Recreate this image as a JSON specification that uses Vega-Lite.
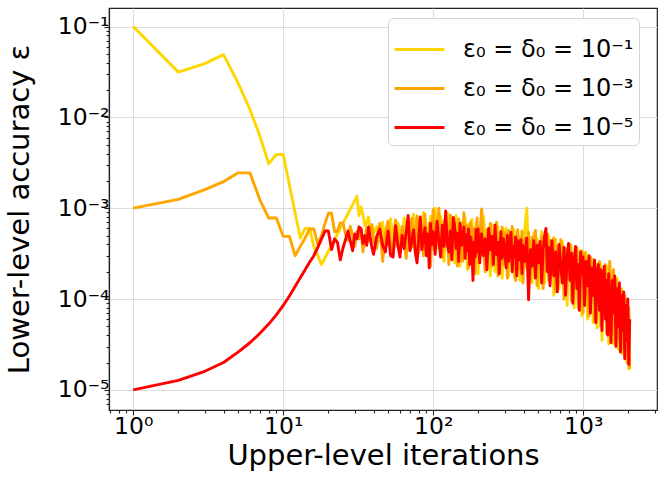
{
"$schema":"https://vega.github.io/schema/vega-lite/v6.json",
"width":548,"height":402,
"autosize":{"type":"none"},
"padding":{"left":109,"top":8,"right":7,"bottom":73},
"background":"white",
"config":{
"font":"DejaVu Sans",
"view":{"stroke":"#222","strokeWidth":1.2},
"axis":{"labelFont":"DejaVu Sans","titleFont":"DejaVu Sans","labelColor":"#000","titleColor":"#000","labelFontSize":23.5,"titleFontSize":29,"titleFontWeight":"normal","domainColor":"#222","domainWidth":1.2,"tickColor":"#222","tickWidth":1.1,"gridColor":"#dcdcdc","gridWidth":1,"labelOverlap":false,"labelFlush":false,"labelBound":false}
},
"datasets":{
"g":[{"x":1,"y":0.1},{"x":2,"y":0.0315},{"x":3,"y":0.039},{"x":4,"y":0.049},{"x":5,"y":0.024},{"x":6,"y":0.0122},{"x":7,"y":0.0062},{"x":8,"y":0.0031},{"x":9,"y":0.0039},{"x":10,"y":0.0039},{"x":11,"y":0.0018},{"x":12,"y":8.9e-4},{"x":13,"y":4.7e-4},{"x":14,"y":6.0e-4},{"x":15,"y":6.0e-4},{"x":16,"y":3.8e-4},{"x":17,"y":3.0e-4},{"x":18,"y":2.4e-4},{"x":19,"y":2.85e-4},{"x":20,"y":3.36e-4},{"x":21,"y":3.9e-4},{"x":22,"y":4.5e-4},{"x":23,"y":5.2e-4},{"x":24,"y":6.0e-4},{"x":25,"y":6.8e-4},{"x":26,"y":7.7e-4},{"x":27,"y":8.7e-4},{"x":28,"y":9.8e-4},{"x":29,"y":1.09e-3},{"x":30,"y":1.22e-3},{"x":31,"y":1.35e-3},{"x":32,"y":8.3e-4},{"x":33,"y":1.03e-3},{"x":34,"y":8.5e-4},{"x":35,"y":6.4e-4},{"x":36,"y":6.8e-4},{"x":37,"y":8.0e-4},{"x":38,"y":5.6e-4},{"x":39,"y":6.5e-4},{"x":40,"y":5.2e-4},
{"x":42,"y":6.3e-4},{"x":44,"y":4.4e-4},{"x":46,"y":7.0e-4},{"x":48,"y":3.6e-4},{"x":50,"y":5.0e-4},{"x":52,"y":7.6e-4},{"x":54,"y":4.6e-4},{"x":56,"y":3.8e-4},{"x":58,"y":6.9e-4},{"x":60,"y":5.5e-4},{"x":62,"y":3.9e-4},{"x":64,"y":7.8e-4},{"x":66,"y":4.7e-4},{"x":68,"y":3.5e-4},{"x":70,"y":6.4e-4},{"x":72,"y":5.2e-4},{"x":74,"y":8.6e-4},{"x":76,"y":3.3e-4},{"x":78,"y":5.9e-4},{"x":80,"y":7.3e-4},{"x":82,"y":3.8e-4},{"x":84,"y":5.1e-4},{"x":86,"y":9.0e-4},{"x":88,"y":4.2e-4},{"x":90,"y":6.2e-4},{"x":92,"y":3.1e-4},{"x":94,"y":5.4e-4},{"x":96,"y":8.1e-4},{"x":98,"y":3.5e-4},{"x":100,"y":6.6e-4},
{"x":103,"y":1.0e-3},{"x":106,"y":3.6e-4},{"x":109,"y":5.4e-4},{"x":112,"y":8.2e-4},{"x":115,"y":4.1e-4},{"x":118,"y":2.6e-4},{"x":121,"y":6.2e-4},{"x":124,"y":9.0e-4},{"x":127,"y":4.6e-4},{"x":130,"y":3.0e-4},{"x":133,"y":7.4e-4},{"x":136,"y":5.1e-4},{"x":139,"y":2.5e-4},{"x":142,"y":8.3e-4},{"x":145,"y":4.4e-4},{"x":148,"y":6.1e-4},{"x":151,"y":2.3e-4},{"x":154,"y":7.0e-4},{"x":157,"y":4.8e-4},{"x":160,"y":3.3e-4},{"x":163,"y":8.0e-4},{"x":166,"y":4.1e-4},{"x":169,"y":2.1e-4},{"x":172,"y":6.7e-4},{"x":175,"y":4.2e-4},{"x":178,"y":2.6e-4},{"x":181,"y":7.5e-4},{"x":184,"y":3.4e-4},{"x":187,"y":5.3e-4},{"x":190,"y":2.4e-4},{"x":193,"y":6.9e-4},{"x":196,"y":4.0e-4},{"x":199,"y":1.9e-4},
{"x":204,"y":6.1e-4},{"x":210,"y":3.1e-4},{"x":216,"y":8.2e-4},{"x":222,"y":4.3e-4},{"x":228,"y":2.6e-4},{"x":234,"y":4.9e-4},{"x":240,"y":1.8e-4},{"x":246,"y":6.6e-4},{"x":252,"y":3.5e-4},{"x":258,"y":2.0e-4},{"x":264,"y":5.4e-4},{"x":270,"y":6.3e-4},{"x":276,"y":2.5e-4},{"x":282,"y":3.9e-4},{"x":288,"y":1.7e-4},{"x":294,"y":5.8e-4},{"x":300,"y":2.8e-4},{"x":306,"y":6.0e-4},{"x":312,"y":3.3e-4},{"x":318,"y":1.8e-4},{"x":324,"y":5.2e-4},{"x":330,"y":2.4e-4},{"x":336,"y":4.4e-4},{"x":342,"y":5.9e-4},{"x":348,"y":1.7e-4},{"x":354,"y":3.9e-4},{"x":360,"y":5.6e-4},{"x":366,"y":2.3e-4},{"x":372,"y":4.9e-4},{"x":378,"y":1.6e-4},{"x":384,"y":3.6e-4},{"x":390,"y":4.7e-4},{"x":396,"y":2.5e-4},
{"x":408,"y":5.8e-4},{"x":420,"y":1.0e-3},{"x":432,"y":2.9e-4},{"x":444,"y":4.4e-4},{"x":456,"y":1.5e-4},{"x":468,"y":5.3e-4},{"x":480,"y":3.3e-4},{"x":492,"y":4.6e-4},{"x":504,"y":1.3e-4},{"x":516,"y":3.8e-4},{"x":528,"y":5.5e-4},{"x":540,"y":2.4e-4},{"x":552,"y":1.5e-4},{"x":564,"y":4.3e-4},{"x":576,"y":3.0e-4},{"x":588,"y":5.0e-4},{"x":600,"y":2.1e-4},
{"x":618,"y":3.9e-4},{"x":636,"y":1.1e-4},{"x":654,"y":4.6e-4},{"x":672,"y":2.6e-4},{"x":690,"y":1.3e-4},{"x":708,"y":3.5e-4},{"x":726,"y":4.3e-4},{"x":744,"y":1.9e-4},{"x":762,"y":2.7e-4},{"x":780,"y":8.5e-5},{"x":798,"y":3.4e-4},{"x":816,"y":2.2e-4},{"x":834,"y":3.9e-4},{"x":852,"y":1.5e-4},{"x":870,"y":8.0e-5},{"x":888,"y":3.0e-4},{"x":906,"y":2.1e-4},{"x":924,"y":3.5e-4},{"x":942,"y":1.2e-4},{"x":960,"y":2.2e-4},{"x":978,"y":6.5e-5},{"x":996,"y":3.1e-4},
{"x":1020,"y":1.6e-4},{"x":1044,"y":3.3e-4},{"x":1068,"y":6.0e-5},{"x":1092,"y":2.1e-4},{"x":1116,"y":1.5e-4},{"x":1140,"y":2.8e-4},{"x":1164,"y":5.5e-5},{"x":1188,"y":1.6e-4},{"x":1212,"y":2.5e-4},{"x":1236,"y":4.8e-5},{"x":1260,"y":2.0e-4},{"x":1284,"y":1.2e-4},{"x":1308,"y":2.4e-4},{"x":1332,"y":3.5e-5},{"x":1356,"y":1.5e-4},{"x":1380,"y":7.0e-5},{"x":1404,"y":2.1e-4},{"x":1428,"y":1.1e-4},{"x":1452,"y":2.3e-4},{"x":1476,"y":3.2e-5},{"x":1500,"y":1.7e-4},
{"x":1530,"y":7.5e-5},{"x":1560,"y":1.9e-4},{"x":1590,"y":3.2e-5},{"x":1620,"y":1.4e-4},{"x":1650,"y":8.0e-5},{"x":1680,"y":1.7e-4},{"x":1710,"y":2.8e-5},{"x":1740,"y":1.1e-4},{"x":1770,"y":5.5e-5},{"x":1800,"y":1.3e-4},{"x":1830,"y":2.5e-5},{"x":1860,"y":9.0e-5},{"x":1890,"y":5.0e-5},{"x":1920,"y":1.0e-4},{"x":1950,"y":2.0e-5},{"x":1980,"y":7.0e-5},{"x":2010,"y":1.7e-5},{"x":2040,"y":5.0e-5}],
"o":[{"x":1,"y":1.0e-3},{"x":2,"y":1.25e-3},{"x":3,"y":1.6e-3},{"x":4,"y":1.96e-3},{"x":5,"y":2.45e-3},{"x":6,"y":2.45e-3},{"x":7,"y":1.23e-3},{"x":8,"y":7.8e-4},{"x":9,"y":7.8e-4},{"x":10,"y":4.9e-4},{"x":11,"y":4.9e-4},{"x":12,"y":3.0e-4},{"x":13,"y":3.8e-4},{"x":14,"y":4.7e-4},{"x":15,"y":5.9e-4},{"x":16,"y":5.9e-4},{"x":17,"y":4.0e-4},{"x":18,"y":5.0e-4},{"x":19,"y":6.8e-4},{"x":20,"y":8.8e-4},{"x":21,"y":8.8e-4},{"x":22,"y":5.5e-4},{"x":23,"y":5.6e-4},{"x":24,"y":6.9e-4},{"x":25,"y":6.9e-4},{"x":26,"y":5.2e-4},{"x":27,"y":4.4e-4},{"x":28,"y":6.3e-4},{"x":29,"y":5.0e-4},{"x":30,"y":3.8e-4},{"x":31,"y":5.5e-4},{"x":32,"y":4.6e-4},{"x":33,"y":5.8e-4},{"x":34,"y":3.3e-4},{"x":35,"y":4.7e-4},{"x":36,"y":6.1e-4},{"x":37,"y":4.3e-4},{"x":38,"y":5.6e-4},{"x":39,"y":6.6e-4},{"x":40,"y":4.5e-4},
{"x":42,"y":3.6e-4},{"x":44,"y":6.8e-4},{"x":46,"y":2.6e-4},{"x":48,"y":5.4e-4},{"x":50,"y":7.2e-4},{"x":52,"y":4.2e-4},{"x":54,"y":3.3e-4},{"x":56,"y":7.4e-4},{"x":58,"y":5.1e-4},{"x":60,"y":3.4e-4},{"x":62,"y":6.3e-4},{"x":64,"y":4.4e-4},{"x":66,"y":2.8e-4},{"x":68,"y":6.0e-4},{"x":70,"y":4.9e-4},{"x":72,"y":7.7e-4},{"x":74,"y":3.7e-4},{"x":76,"y":5.3e-4},{"x":78,"y":8.2e-4},{"x":80,"y":3.2e-4},{"x":82,"y":4.8e-4},{"x":84,"y":6.6e-4},{"x":86,"y":3.0e-4},{"x":88,"y":8.6e-4},{"x":90,"y":4.6e-4},{"x":92,"y":3.4e-4},{"x":94,"y":6.9e-4},{"x":96,"y":2.3e-4},{"x":98,"y":5.8e-4},{"x":100,"y":9.6e-4},
{"x":103,"y":4.1e-4},{"x":106,"y":5.9e-4},{"x":109,"y":1.0e-3},{"x":112,"y":3.9e-4},{"x":115,"y":2.9e-4},{"x":118,"y":7.3e-4},{"x":121,"y":4.8e-4},{"x":124,"y":6.6e-4},{"x":127,"y":2.4e-4},{"x":130,"y":8.4e-4},{"x":133,"y":4.4e-4},{"x":136,"y":3.2e-4},{"x":139,"y":6.1e-4},{"x":142,"y":5.2e-4},{"x":145,"y":2.3e-4},{"x":148,"y":7.6e-4},{"x":151,"y":3.6e-4},{"x":154,"y":5.7e-4},{"x":157,"y":2.6e-4},{"x":160,"y":8.9e-4},{"x":163,"y":4.2e-4},{"x":166,"y":3.1e-4},{"x":169,"y":6.4e-4},{"x":172,"y":2.2e-4},{"x":175,"y":5.5e-4},{"x":178,"y":7.1e-4},{"x":181,"y":2.7e-4},{"x":184,"y":4.6e-4},{"x":187,"y":6.0e-4},{"x":190,"y":1.9e-4},{"x":193,"y":4.9e-4},{"x":196,"y":7.8e-4},{"x":199,"y":3.0e-4},
{"x":204,"y":4.7e-4},{"x":210,"y":9.8e-4},{"x":216,"y":3.6e-4},{"x":222,"y":2.0e-4},{"x":228,"y":5.8e-4},{"x":234,"y":3.2e-4},{"x":240,"y":6.8e-4},{"x":246,"y":2.3e-4},{"x":252,"y":5.1e-4},{"x":258,"y":3.8e-4},{"x":264,"y":7.0e-4},{"x":270,"y":1.8e-4},{"x":276,"y":4.6e-4},{"x":282,"y":3.0e-4},{"x":288,"y":6.2e-4},{"x":294,"y":2.4e-4},{"x":300,"y":5.3e-4},{"x":306,"y":4.0e-4},{"x":312,"y":1.7e-4},{"x":318,"y":5.7e-4},{"x":324,"y":2.9e-4},{"x":330,"y":3.6e-4},{"x":336,"y":6.3e-4},{"x":342,"y":2.2e-4},{"x":348,"y":4.9e-4},{"x":354,"y":1.6e-4},{"x":360,"y":4.2e-4},{"x":366,"y":5.8e-4},{"x":372,"y":2.1e-4},{"x":378,"y":4.5e-4},{"x":384,"y":2.8e-4},{"x":390,"y":5.6e-4},{"x":396,"y":1.5e-4},
{"x":408,"y":4.6e-4},{"x":420,"y":2.2e-4},{"x":432,"y":5.4e-4},{"x":444,"y":1.6e-4},{"x":456,"y":4.8e-4},{"x":468,"y":2.9e-4},{"x":480,"y":5.7e-4},{"x":492,"y":1.4e-4},{"x":504,"y":4.1e-4},{"x":516,"y":2.6e-4},{"x":528,"y":4.9e-4},{"x":540,"y":1.3e-4},{"x":552,"y":3.2e-4},{"x":564,"y":2.1e-4},{"x":576,"y":5.2e-4},{"x":588,"y":1.6e-4},{"x":600,"y":4.4e-4},
{"x":618,"y":2.0e-4},{"x":636,"y":4.7e-4},{"x":654,"y":1.2e-4},{"x":672,"y":3.8e-4},{"x":690,"y":1.9e-4},{"x":708,"y":4.5e-4},{"x":726,"y":2.8e-4},{"x":744,"y":1.0e-4},{"x":762,"y":3.6e-4},{"x":780,"y":1.7e-4},{"x":798,"y":2.6e-4},{"x":816,"y":4.0e-4},{"x":834,"y":9.5e-5},{"x":852,"y":3.1e-4},{"x":870,"y":1.5e-4},{"x":888,"y":2.2e-4},{"x":906,"y":3.7e-4},{"x":924,"y":8.0e-5},{"x":942,"y":2.8e-4},{"x":960,"y":1.4e-4},{"x":978,"y":3.4e-4},{"x":996,"y":7.0e-5},
{"x":1020,"y":3.2e-4},{"x":1044,"y":1.1e-4},{"x":1068,"y":2.4e-4},{"x":1092,"y":6.5e-5},{"x":1116,"y":2.9e-4},{"x":1140,"y":1.3e-4},{"x":1164,"y":2.5e-4},{"x":1188,"y":5.8e-5},{"x":1212,"y":2.2e-4},{"x":1236,"y":9.0e-5},{"x":1260,"y":1.5e-4},{"x":1284,"y":2.6e-4},{"x":1308,"y":5.0e-5},{"x":1332,"y":2.0e-4},{"x":1356,"y":8.0e-5},{"x":1380,"y":1.4e-4},{"x":1404,"y":2.4e-4},{"x":1428,"y":4.2e-5},{"x":1452,"y":1.8e-4},{"x":1476,"y":6.5e-5},{"x":1500,"y":2.6e-4},
{"x":1530,"y":1.3e-4},{"x":1560,"y":4.0e-5},{"x":1590,"y":2.1e-4},{"x":1620,"y":6.0e-5},{"x":1650,"y":1.6e-4},{"x":1680,"y":3.4e-5},{"x":1710,"y":1.4e-4},{"x":1740,"y":6.5e-5},{"x":1770,"y":1.3e-4},{"x":1800,"y":2.8e-5},{"x":1830,"y":1.2e-4},{"x":1860,"y":4.8e-5},{"x":1890,"y":1.1e-4},{"x":1920,"y":2.3e-5},{"x":1950,"y":9.5e-5},{"x":1980,"y":2.0e-5},{"x":2010,"y":8.0e-5},{"x":2040,"y":1.7e-5}],
"r":[{"x":1,"y":1.0e-5},{"x":2,"y":1.27e-5},{"x":3,"y":1.6e-5},{"x":4,"y":2.0e-5},{"x":5,"y":2.6e-5},{"x":6,"y":3.3e-5},{"x":7,"y":4.2e-5},{"x":8,"y":5.3e-5},{"x":9,"y":6.7e-5},{"x":10,"y":8.5e-5},{"x":11,"y":1.08e-4},{"x":12,"y":1.37e-4},{"x":13,"y":1.72e-4},{"x":14,"y":2.1e-4},{"x":15,"y":2.55e-4},{"x":16,"y":3.0e-4},{"x":17,"y":3.7e-4},{"x":18,"y":4.6e-4},{"x":19,"y":5.6e-4},{"x":20,"y":5.6e-4},{"x":21,"y":3.5e-4},{"x":22,"y":4.6e-4},{"x":23,"y":4.2e-4},{"x":24,"y":2.7e-4},{"x":25,"y":3.6e-4},{"x":26,"y":4.5e-4},{"x":27,"y":5.6e-4},{"x":28,"y":4.4e-4},{"x":29,"y":3.4e-4},{"x":30,"y":5.2e-4},{"x":31,"y":4.6e-4},{"x":32,"y":6.2e-4},{"x":33,"y":6.0e-4},{"x":34,"y":4.1e-4},{"x":35,"y":5.0e-4},{"x":36,"y":3.9e-4},{"x":37,"y":6.2e-4},{"x":38,"y":4.8e-4},{"x":39,"y":3.7e-4},{"x":40,"y":3.1e-4},
{"x":42,"y":4.9e-4},{"x":44,"y":5.9e-4},{"x":46,"y":3.9e-4},{"x":48,"y":3.3e-4},{"x":50,"y":5.6e-4},{"x":52,"y":3.0e-4},{"x":54,"y":2.9e-4},{"x":56,"y":6.4e-4},{"x":58,"y":4.0e-4},{"x":60,"y":2.9e-4},{"x":62,"y":5.0e-4},{"x":64,"y":3.6e-4},{"x":66,"y":5.4e-4},{"x":68,"y":8.3e-4},{"x":70,"y":3.4e-4},{"x":72,"y":4.3e-4},{"x":74,"y":5.8e-4},{"x":76,"y":3.2e-4},{"x":78,"y":2.5e-4},{"x":80,"y":4.7e-4},{"x":82,"y":8.0e-4},{"x":84,"y":3.5e-4},{"x":86,"y":4.6e-4},{"x":88,"y":6.1e-4},{"x":90,"y":3.0e-4},{"x":92,"y":5.2e-4},{"x":94,"y":2.2e-4},{"x":96,"y":6.8e-4},{"x":98,"y":4.0e-4},{"x":100,"y":5.5e-4},
{"x":103,"y":3.1e-4},{"x":106,"y":7.2e-4},{"x":109,"y":4.4e-4},{"x":112,"y":2.9e-4},{"x":115,"y":6.5e-4},{"x":118,"y":3.8e-4},{"x":121,"y":9.3e-4},{"x":124,"y":4.0e-4},{"x":127,"y":3.3e-4},{"x":130,"y":5.6e-4},{"x":133,"y":2.7e-4},{"x":136,"y":7.9e-4},{"x":139,"y":6.4e-4},{"x":142,"y":3.6e-4},{"x":145,"y":5.3e-4},{"x":148,"y":2.6e-4},{"x":151,"y":6.8e-4},{"x":154,"y":3.9e-4},{"x":157,"y":4.5e-4},{"x":160,"y":6.2e-4},{"x":163,"y":2.8e-4},{"x":166,"y":5.1e-4},{"x":169,"y":3.4e-4},{"x":172,"y":5.9e-4},{"x":175,"y":2.4e-4},{"x":178,"y":4.8e-4},{"x":181,"y":3.7e-4},{"x":184,"y":1.6e-4},{"x":187,"y":4.2e-4},{"x":190,"y":2.9e-4},{"x":193,"y":5.8e-4},{"x":196,"y":3.3e-4},{"x":199,"y":5.9e-4},
{"x":204,"y":2.5e-4},{"x":210,"y":5.2e-4},{"x":216,"y":3.0e-4},{"x":222,"y":4.6e-4},{"x":228,"y":2.1e-4},{"x":234,"y":6.0e-4},{"x":240,"y":3.5e-4},{"x":246,"y":4.9e-4},{"x":252,"y":2.4e-4},{"x":258,"y":6.5e-4},{"x":264,"y":3.1e-4},{"x":270,"y":4.2e-4},{"x":276,"y":1.9e-4},{"x":282,"y":5.5e-4},{"x":288,"y":2.8e-4},{"x":294,"y":4.6e-4},{"x":300,"y":3.4e-4},{"x":306,"y":2.2e-4},{"x":312,"y":5.0e-4},{"x":318,"y":2.6e-4},{"x":324,"y":4.1e-4},{"x":330,"y":5.4e-4},{"x":336,"y":2.0e-4},{"x":342,"y":3.8e-4},{"x":348,"y":2.9e-4},{"x":354,"y":4.8e-4},{"x":360,"y":1.8e-4},{"x":366,"y":4.4e-4},{"x":372,"y":2.7e-4},{"x":378,"y":3.6e-4},{"x":384,"y":4.5e-4},{"x":390,"y":1.9e-4},{"x":396,"y":3.9e-4},
{"x":408,"y":2.6e-4},{"x":420,"y":4.7e-4},{"x":432,"y":9.8e-5},{"x":444,"y":3.5e-4},{"x":456,"y":2.3e-4},{"x":468,"y":4.4e-4},{"x":480,"y":1.7e-4},{"x":492,"y":3.9e-4},{"x":504,"y":2.5e-4},{"x":516,"y":4.3e-4},{"x":528,"y":1.5e-4},{"x":540,"y":3.4e-4},{"x":552,"y":4.9e-4},{"x":564,"y":6.0e-4},{"x":576,"y":2.0e-4},{"x":588,"y":3.7e-4},{"x":600,"y":1.4e-4},
{"x":618,"y":4.4e-4},{"x":636,"y":1.8e-4},{"x":654,"y":3.3e-4},{"x":672,"y":1.2e-4},{"x":690,"y":4.0e-4},{"x":708,"y":2.3e-4},{"x":726,"y":1.5e-4},{"x":744,"y":3.7e-4},{"x":762,"y":1.1e-4},{"x":780,"y":2.9e-4},{"x":798,"y":4.1e-4},{"x":816,"y":1.6e-4},{"x":834,"y":3.2e-4},{"x":852,"y":9.0e-5},{"x":870,"y":2.7e-4},{"x":888,"y":3.8e-4},{"x":906,"y":1.3e-4},{"x":924,"y":2.4e-4},{"x":942,"y":7.5e-5},{"x":960,"y":3.3e-4},{"x":978,"y":1.9e-4},{"x":996,"y":2.9e-4},
{"x":1020,"y":8.5e-5},{"x":1044,"y":2.6e-4},{"x":1068,"y":1.4e-4},{"x":1092,"y":3.0e-4},{"x":1116,"y":7.0e-5},{"x":1140,"y":2.2e-4},{"x":1164,"y":1.1e-4},{"x":1188,"y":2.7e-4},{"x":1212,"y":5.5e-5},{"x":1236,"y":1.9e-4},{"x":1260,"y":2.4e-4},{"x":1284,"y":7.5e-5},{"x":1308,"y":2.1e-4},{"x":1332,"y":4.5e-5},{"x":1356,"y":1.7e-4},{"x":1380,"y":2.3e-4},{"x":1404,"y":6.0e-5},{"x":1428,"y":1.6e-4},{"x":1452,"y":4.0e-5},{"x":1476,"y":1.9e-4},{"x":1500,"y":9.0e-5},
{"x":1530,"y":3.3e-5},{"x":1560,"y":1.6e-4},{"x":1590,"y":7.0e-5},{"x":1620,"y":1.8e-4},{"x":1650,"y":3.0e-5},{"x":1680,"y":1.3e-4},{"x":1710,"y":5.0e-5},{"x":1740,"y":1.5e-4},{"x":1770,"y":2.6e-5},{"x":1800,"y":1.1e-4},{"x":1830,"y":4.5e-5},{"x":1860,"y":1.2e-4},{"x":1890,"y":2.2e-5},{"x":1920,"y":8.5e-5},{"x":1950,"y":3.5e-5},{"x":1980,"y":1.0e-4},{"x":2010,"y":1.9e-5},{"x":2040,"y":6.0e-5}]
},
"encoding":{
"x":{"field":"x","type":"quantitative","scale":{"type":"log","domain":[0.69,3100],"nice":false},
"axis":{"title":"Upper-level iterations","titlePadding":4,"labelPadding":-1,
"values":[0.7,0.8,0.9,1,2,3,4,5,6,7,8,9,10,20,30,40,50,60,70,80,90,100,200,300,400,500,600,700,800,900,1000,2000,3000],
"labelExpr":"abs(log(datum.value)/LN10-round(log(datum.value)/LN10))<0.001 ? '10' + ['⁰','¹','²','³'][round(log(datum.value)/LN10)] : ''",
"tickSize":{"condition":{"test":"abs(log(datum.value)/LN10-round(log(datum.value)/LN10))<0.001","value":5},"value":3},
"gridOpacity":{"condition":{"test":"abs(log(datum.value)/LN10-round(log(datum.value)/LN10))<0.001","value":1},"value":0}}},
"y":{"field":"y","type":"quantitative","scale":{"type":"log","domain":[6e-6,0.16],"nice":false},
"axis":{"title":"Lower-level accuracy ε","titlePadding":23,"labelPadding":-5,
"values":[7e-6,8e-6,9e-6,1e-5,2e-5,3e-5,4e-5,5e-5,6e-5,7e-5,8e-5,9e-5,1e-4,2e-4,3e-4,4e-4,5e-4,6e-4,7e-4,8e-4,9e-4,0.001,0.002,0.003,0.004,0.005,0.006,0.007,0.008,0.009,0.01,0.02,0.03,0.04,0.05,0.06,0.07,0.08,0.09,0.1],
"labelExpr":"abs(log(datum.value)/LN10-round(log(datum.value)/LN10))<0.001 ? '10⁻' + ['⁰','¹','²','³','⁴','⁵','⁶'][-round(log(datum.value)/LN10)] : ''",
"tickSize":{"condition":{"test":"abs(log(datum.value)/LN10-round(log(datum.value)/LN10))<0.001","value":5},"value":3},
"gridOpacity":{"condition":{"test":"abs(log(datum.value)/LN10-round(log(datum.value)/LN10))<0.001","value":1},"value":0}}}
},
"layer":[
{"data":{"name":"g"},"mark":{"type":"line","strokeWidth":2.9,"strokeJoin":"round","clip":true},
"encoding":{"color":{"datum":"a","type":"nominal","scale":{"domain":["a","b","c"],"range":["#FFD700","#FFA500","#FF0000"]},
"legend":{"orient":"none","legendX":279,"legendY":10,"direction":"vertical","title":null,"symbolType":"stroke","symbolSize":2500,"symbolStrokeWidth":3,"labelFontSize":24,"labelFont":"DejaVu Sans","labelColor":"#000","labelOffset":17,"labelLimit":400,"padding":5,"rowPadding":-2,"fillColor":"white","strokeColor":"#d5d5d5","cornerRadius":5,
"labelExpr":"datum.value=='a' ? 'ε₀ = δ₀ = 10⁻¹' : datum.value=='b' ? 'ε₀ = δ₀ = 10⁻³' : 'ε₀ = δ₀ = 10⁻⁵'"}}}},
{"data":{"name":"o"},"mark":{"type":"line","strokeWidth":2.9,"strokeJoin":"round","clip":true},
"encoding":{"color":{"datum":"b","type":"nominal"}}},
{"data":{"name":"r"},"mark":{"type":"line","strokeWidth":2.9,"strokeJoin":"round","clip":true},
"encoding":{"color":{"datum":"c","type":"nominal"}}}
]
}
